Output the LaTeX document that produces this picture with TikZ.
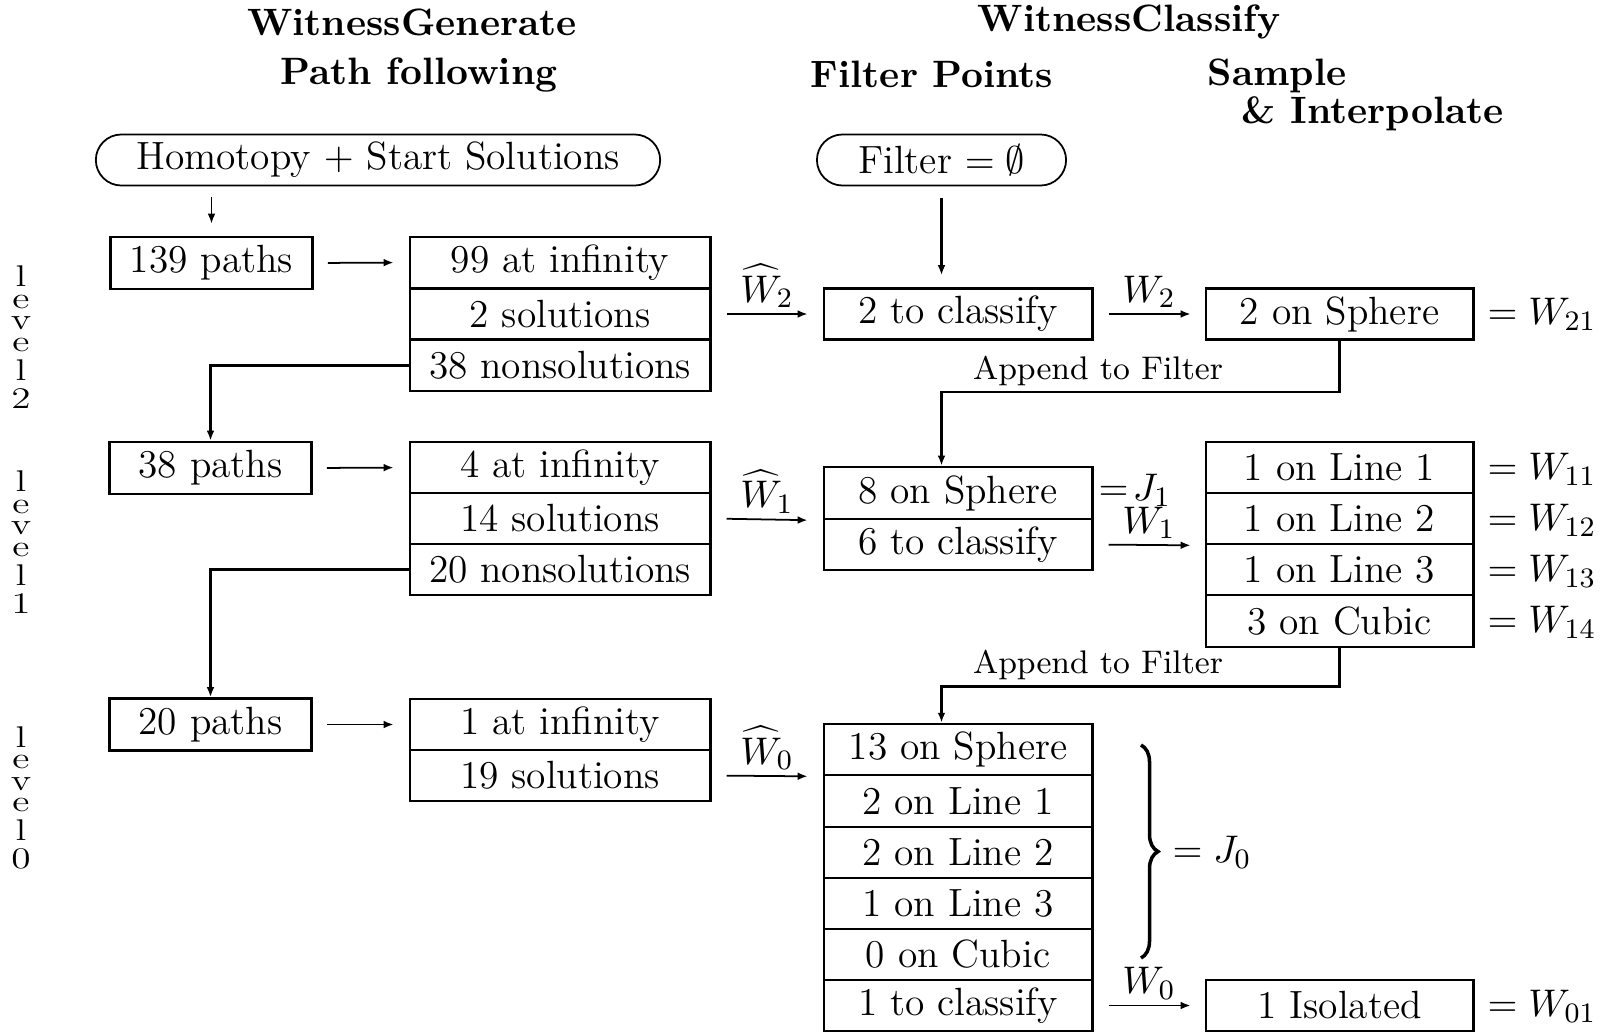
\documentclass[tikz,border=0pt]{standalone}
\usepackage{graphicx}
\usetikzlibrary{arrows.meta,shapes.misc,decorations.pathreplacing}
\newcommand\mainsz{\fontsize{11.2pt}{13pt}\selectfont}
\newcommand\headsz{\fontsize{10.85pt}{12.5pt}\selectfont\bfseries}
\newcommand\apsz{\fontsize{9.3pt}{11pt}\selectfont}
\newcommand\lvltext[1]{\scalebox{1}[0.76]{\shortstack{l\\e\\v\\e\\l\\#1}}}
\begin{document}
\begin{tikzpicture}[x=0.01cm,y=-0.01cm,
 cell/.style={draw,line width=0.8pt,inner sep=0pt,minimum height=0.51cm,font=\mainsz},
 gcell/.style={cell,minimum width=3.0cm},
 pcell/.style={cell,minimum width=2.02cm,minimum height=0.52cm},
 fcell/.style={cell,minimum width=2.68cm},
 scell/.style={cell,minimum width=2.67cm},
 startbox/.style={draw,rounded rectangle,line width=0.5pt,minimum height=0.51cm,inner sep=0pt,font=\mainsz},
 head/.style={font=\headsz,inner sep=0pt},
 eqlab/.style={font=\mainsz,anchor=west,inner sep=0pt},
 arr/.style={-{Latex[length=2.8pt,width=2.2pt]},line width=0.5pt},
 conn/.style={line width=0.65pt},
 connarr/.style={conn,-{Latex[length=2.8pt,width=2.2pt]}},
 lvl/.style={font=\mainsz,inner sep=0pt},
 alab/.style={font=\mainsz,above,inner sep=1.5pt},
 aplab/.style={font=\apsz,inner sep=0pt},
]
\useasboundingbox (0,0) rectangle (1604,1033);

% headers
\node[head] (hWG) at (412,22) {WitnessGenerate};
\node[head] (hPF) at (419,75) {Path following};
\node[head] (hWC) at (1129,22) {WitnessClassify};
\node[head] (hFP) at (932,74) {Filter Points};
\node[head,anchor=west] (hS) at (1207,76) {Sample};
\node[head,anchor=west] (hI) at (1241,114) {\& Interpolate};

% start boxes
\node[startbox,minimum width=5.64cm] (hom) at (378,160) {Homotopy $+$ Start Solutions};
\node[startbox,minimum width=2.49cm] (filt) at (941.5,160) {Filter $=\emptyset$};

% level labels
\node[lvl] (L2) at (21,337) {\lvltext{2}};
\node[lvl] (L1) at (21,542) {\lvltext{1}};
\node[lvl] (L0) at (21,798) {\lvltext{0}};

% level 2
\node[pcell] (p2) at (211.5,263) {139 paths};
\node[gcell] (g2a) at (560,262.5) {99 at infinity};
\node[gcell] (g2b) at (560,314) {2 solutions};
\node[gcell] (g2c) at (560,365.5) {38 nonsolutions};
\node[fcell] (c2) at (958,314) {2 to classify};
\node[scell] (s2) at (1339.5,314) {2 on Sphere};
\node[eqlab] (e21) at (1487,314) {$=W_{21}$};

% level 1
\node[pcell] (p1) at (210.5,468) {38 paths};
\node[gcell] (g1a) at (560,467.5) {4 at infinity};
\node[gcell] (g1b) at (560,518.5) {14 solutions};
\node[gcell] (g1c) at (560,569.5) {20 nonsolutions};
\node[fcell,minimum height=0.52cm] (m1a) at (958,493) {8 on Sphere};
\node[fcell] (m1b) at (958,544.5) {6 to classify};
\node[eqlab] (j1) at (1098,490) {$=\!J_1$};
\node[scell] (r1a) at (1339.5,467.5) {1 on Line 1};
\node[scell] (r1b) at (1339.5,518.5) {1 on Line 2};
\node[scell] (r1c) at (1339.5,569.5) {1 on Line 3};
\node[scell,minimum height=0.52cm] (r1d) at (1339.5,621) {3 on Cubic};
\node[eqlab] (e11) at (1487,469) {$=W_{11}$};
\node[eqlab] (e12) at (1487,520) {$=W_{12}$};
\node[eqlab] (e13) at (1487,571) {$=W_{13}$};
\node[eqlab] (e14) at (1487,622) {$=W_{14}$};

% level 0
\node[pcell] (p0) at (210.5,724.5) {20 paths};
\node[gcell] (g0a) at (560,724.5) {1 at infinity};
\node[gcell] (g0b) at (560,775.5) {19 solutions};
\node[fcell] (m0a) at (958,749.5) {13 on Sphere};
\node[fcell,minimum height=0.52cm] (m0b) at (958,801) {2 on Line 1};
\node[fcell] (m0c) at (958,852.5) {2 on Line 2};
\node[fcell] (m0d) at (958,903.5) {1 on Line 3};
\node[fcell] (m0e) at (958,954.5) {0 on Cubic};
\node[fcell] (m0f) at (958,1005.5) {1 to classify};
\node[scell] (iso) at (1339.5,1005.5) {1 Isolated};
\node[eqlab] (e01) at (1487,1006) {$=W_{01}$};

% brace
\draw[line width=1pt,decorate,decoration={brace,amplitude=0.17cm}] (1141,745) -- (1141,958);
\node[eqlab] (j0) at (1172,852) {$=J_0$};

% arrows: path following
\draw[arr,shorten <=0.11cm,shorten >=0.12cm] (p2.north |- hom.south) -- (p2.north);
\draw[arr,shorten <=0.14cm,shorten >=0.15cm] (p2.east) -- (g2a.west);
\draw[arr,shorten <=0.14cm,shorten >=0.15cm] (p1.east) -- (g1a.west);
\draw[arr,shorten <=0.14cm,shorten >=0.15cm] (p0.east) -- (g0a.west);
\draw[connarr] (g2c.west) -| (p1.north);
\draw[connarr] (g1c.west) -| (p0.north);

% hat arrows
\draw[arr,shorten <=0.15cm,shorten >=0.15cm] (g2b.east) -- node[alab]{$\widehat{W}_2$} (c2.west);
\draw[arr,shorten <=0.15cm,shorten >=0.15cm] (g1b.east) -- node[alab]{$\widehat{W}_1$} (m1a.south west);
\draw[arr,shorten <=0.15cm,shorten >=0.15cm] (g0b.east) -- node[alab]{$\widehat{W}_0$} (m0a.south west);

% W arrows
\draw[arr,shorten <=0.15cm,shorten >=0.14cm] (c2.east) -- node[alab]{$W_2$} (s2.west);
\draw[arr,shorten <=0.15cm,shorten >=0.14cm] (m1b.east) -- node[alab]{$W_1$} (r1b.south west);
\draw[arr,shorten <=0.15cm,shorten >=0.14cm] (m0f.east) -- node[alab]{$W_0$} (iso.west);

% filter arrow
\draw[connarr,shorten <=0.12cm,shorten >=0.12cm] (filt.south) -- (filt.south |- c2.north);

% append to filter
\draw[connarr] (s2.south) -- ++(0,51) -| (filt.south |- m1a.north);
\node[aplab] (ap1) at (1098,371) {Append to Filter};
\draw[connarr] (r1d.south) -- ++(0,38) -| (filt.south |- m0a.north);
\node[aplab] (ap2) at (1098,665) {Append to Filter};
\end{tikzpicture}
\end{document}
